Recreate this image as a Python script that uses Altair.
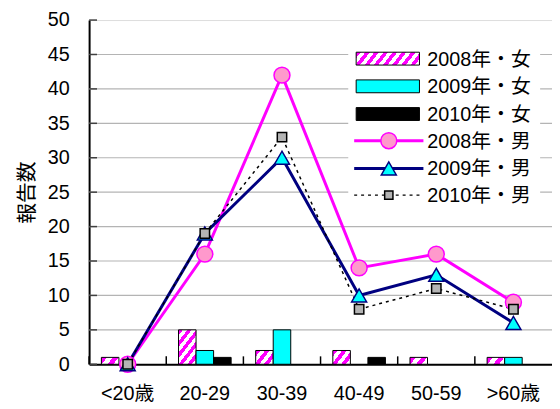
import math
import altair as alt
import pandas as pd

# ---------------- data ----------------
categories = ["<20歳", "20-29", "30-39", "40-49", "50-59", ">60歳"]
female_series = ["2008年・女", "2009年・女", "2010年・女"]
male_series = ["2008年・男", "2009年・男", "2010年・男"]

f2008 = [1, 5, 2, 2, 1, 1]
f2009 = [0, 2, 5, 0, 0, 1]
f2010 = [0, 1, 0, 1, 0, 0]

m2008 = [0, 16, 42, 14, 16, 9]
m2009 = [0, 19, 30, 10, 13, 6]
m2010 = [0, 19, 33, 8, 11, 8]

y_ticks = list(range(0, 51, 5))

# ---------------- tables ----------------
bar_rows = []
for s, vals in zip(female_series, [f2008, f2009, f2010]):
    for c, v in zip(categories, vals):
        if v > 0:
            bar_rows.append({"cat": c, "s": s, "v": v})
bars_df = pd.DataFrame(bar_rows)

line_rows = []
for s, vals in zip(male_series, [m2008, m2009, m2010]):
    for c, v in zip(categories, vals):
        line_rows.append({"cat": c, "s": s, "v": v})
lines_df = pd.DataFrame(line_rows)

ticks_df = pd.DataFrame({"v": y_ticks})
grid_df = pd.DataFrame({"v": y_ticks[1:-1]})
cats_df = pd.DataFrame({"cat": categories})
one = pd.DataFrame({"a": [0]})

# ---------------- geometry ----------------
W, H = 468, 348
PX_PER_UNIT = H / 50.0
BAR_W = W / len(categories) / 4.4

MAGENTA = "#FF00FF"
FONT = "Liberation Sans, Arial, 'Noto Sans CJK JP', sans-serif"


def hatch(w, h, k=1.3, period=7.5):
    c = (k * w + h) / (k * k * w * w + h * h)
    a, b = k * w * c, h * c
    extent = (k * w + h) / math.sqrt(k * k + 1)
    n = max(1, int(round(extent / period)))
    stops = []
    for i in range(n):
        stops += [
            {"offset": i / n, "color": MAGENTA},
            {"offset": (i + 0.5) / n, "color": MAGENTA},
            {"offset": (i + 0.5) / n, "color": "#FFFFFF"},
            {"offset": (i + 1) / n, "color": "#FFFFFF"},
        ]
    return {"gradient": "linear", "x1": 0, "y1": 0, "x2": a, "y2": b, "stops": stops}


X_AXIS = alt.Axis(
    title=None, labelAngle=0, labelFontSize=20, labelColor="black",
    ticks=False, labelPadding=20, domainColor="black", domainWidth=2,
    grid=False, labelFont=FONT,
)
X_SCALE = alt.Scale(domain=categories, paddingInner=0, paddingOuter=0)
X = alt.X("cat:N", sort=categories, scale=X_SCALE, axis=X_AXIS)

Y_AXIS = alt.Axis(
    values=y_ticks, title="報告数", titleFontSize=21, titleFontWeight="normal",
    titleFont=FONT, titleColor="black", titlePadding=10,
    labelFontSize=20, labelColor="black", labelFont=FONT, labelPadding=20,
    labelOverlap=False, labelFlush=False,
    ticks=False, grid=False,
    domainColor="black", domainWidth=2,
)
Y = alt.Y("v:Q", scale=alt.Scale(domain=[0, 50], nice=False), axis=Y_AXIS)

XOFF = alt.XOffset(
    "s:N", scale=alt.Scale(domain=female_series, paddingInner=0, paddingOuter=0.7)
)

layers = []

# horizontal gridlines
layers.append(
    alt.Chart(grid_df).mark_rule(color="#B4B4B4", strokeWidth=1.2)
    .encode(y=Y, x=alt.value(0), x2=alt.value(W))
)

# hatched 2008 female bars (one gradient per bar height)
for val in sorted(set(v for v in f2008 if v > 0)):
    layers.append(
        alt.Chart(bars_df)
        .transform_filter((alt.datum.s == female_series[0]) & (alt.datum.v == val))
        .mark_bar(fill=hatch(BAR_W, val * PX_PER_UNIT), stroke="black", strokeWidth=1)
        .encode(x=X, xOffset=XOFF, y=Y)
    )

# solid 2009 / 2010 female bars
layers.append(
    alt.Chart(bars_df)
    .transform_filter(alt.datum.s != female_series[0])
    .mark_bar(stroke="black", strokeWidth=1, opacity=1)
    .encode(
        x=X, xOffset=XOFF, y=Y,
        fill=alt.Fill("s:N", scale=alt.Scale(domain=female_series[1:], range=["#00FFFF", "#000000"]), legend=None),
    )
)

# inward tick marks
layers.append(
    alt.Chart(ticks_df).mark_rule(color="#404040", strokeWidth=1.5)
    .encode(y=Y, x=alt.value(0), x2=alt.value(8))
)
layers.append(
    alt.Chart(cats_df).mark_rule(color="black", strokeWidth=1.5)
    .encode(x=alt.X("cat:N", sort=categories, scale=X_SCALE, axis=X_AXIS, bandPosition=0),
            y=alt.value(H - 8), y2=alt.value(H))
)

# male lines
line_styles = [
    dict(color=MAGENTA, strokeWidth=3),
    dict(color="#000080", strokeWidth=3),
    dict(color="black", strokeWidth=1.5, strokeDash=[3, 4]),
]
point_styles = [
    dict(shape="circle", size=260, fill="#FF99CC", stroke=MAGENTA, strokeWidth=1.5, filled=True, opacity=1),
    dict(shape="triangle-up", size=230, fill="#00FFFF", stroke="#000080", strokeWidth=1.5, filled=True, opacity=1),
    dict(shape="square", size=90, fill="#B4B4B4", stroke="black", strokeWidth=1.5, filled=True, opacity=1),
]
for s, ls in zip(male_series, line_styles):
    layers.append(
        alt.Chart(lines_df).transform_filter(alt.datum.s == s)
        .mark_line(**ls).encode(x=X, y=Y)
    )
for s, ps in zip(male_series, point_styles):
    layers.append(
        alt.Chart(lines_df).transform_filter(alt.datum.s == s)
        .mark_point(**ps).encode(x=X, y=Y)
    )

# ---------------- legend ----------------
LX0, LX1 = 262, 456
LY0, LY1 = 18, 188
row_y = [39, 67, 95, 122, 150, 177]
sym_x0, sym_x1 = 270, 334
line_x0, line_x1, mark_x = 268, 338, 303
text_x = 342

layers.append(
    alt.Chart(one).mark_rect(fill="white", stroke=None)
    .encode(x=alt.value(LX0), x2=alt.value(LX1), y=alt.value(LY0), y2=alt.value(LY1))
)
legend_fills = [hatch(sym_x1 - sym_x0, 13, period=7.0), "#00FFFF", "#000000"]
for i, (lab, fl) in enumerate(zip(female_series, legend_fills)):
    yy = row_y[i]
    layers.append(
        alt.Chart(one).mark_rect(fill=fl, stroke="black", strokeWidth=1)
        .encode(x=alt.value(sym_x0), x2=alt.value(sym_x1), y=alt.value(yy - 6.5), y2=alt.value(yy + 6.5))
    )
for j, (lab, ls, ps) in enumerate(zip(male_series, line_styles, point_styles)):
    yy = row_y[3 + j]
    layers.append(
        alt.Chart(one).mark_rule(**ls)
        .encode(x=alt.value(line_x0), x2=alt.value(line_x1), y=alt.value(yy))
    )
    ps2 = dict(ps)
    if ps2["shape"] == "square":
        ps2["size"] = 70
    layers.append(
        alt.Chart(one).mark_point(**ps2).encode(x=alt.value(mark_x), y=alt.value(yy))
    )
for i, lab in enumerate(female_series + male_series):
    layers.append(
        alt.Chart(one).mark_text(align="left", baseline="middle", fontSize=20, font=FONT, color="black")
        .encode(x=alt.value(text_x), y=alt.value(row_y[i] + 1), text=alt.value(lab))
    )

chart = (
    alt.layer(*layers)
    .properties(
        width=W, height=H,
        autosize=alt.AutoSizeParams(type="none"),
        padding={"left": 82, "top": 10, "right": 0, "bottom": 40},
        background="white",
    )
    .configure_view(stroke="#808080", strokeWidth=1.5)
    .configure(font=FONT)
)

chart.save("out.html", embed_options={"renderer": "svg", "actions": False})
